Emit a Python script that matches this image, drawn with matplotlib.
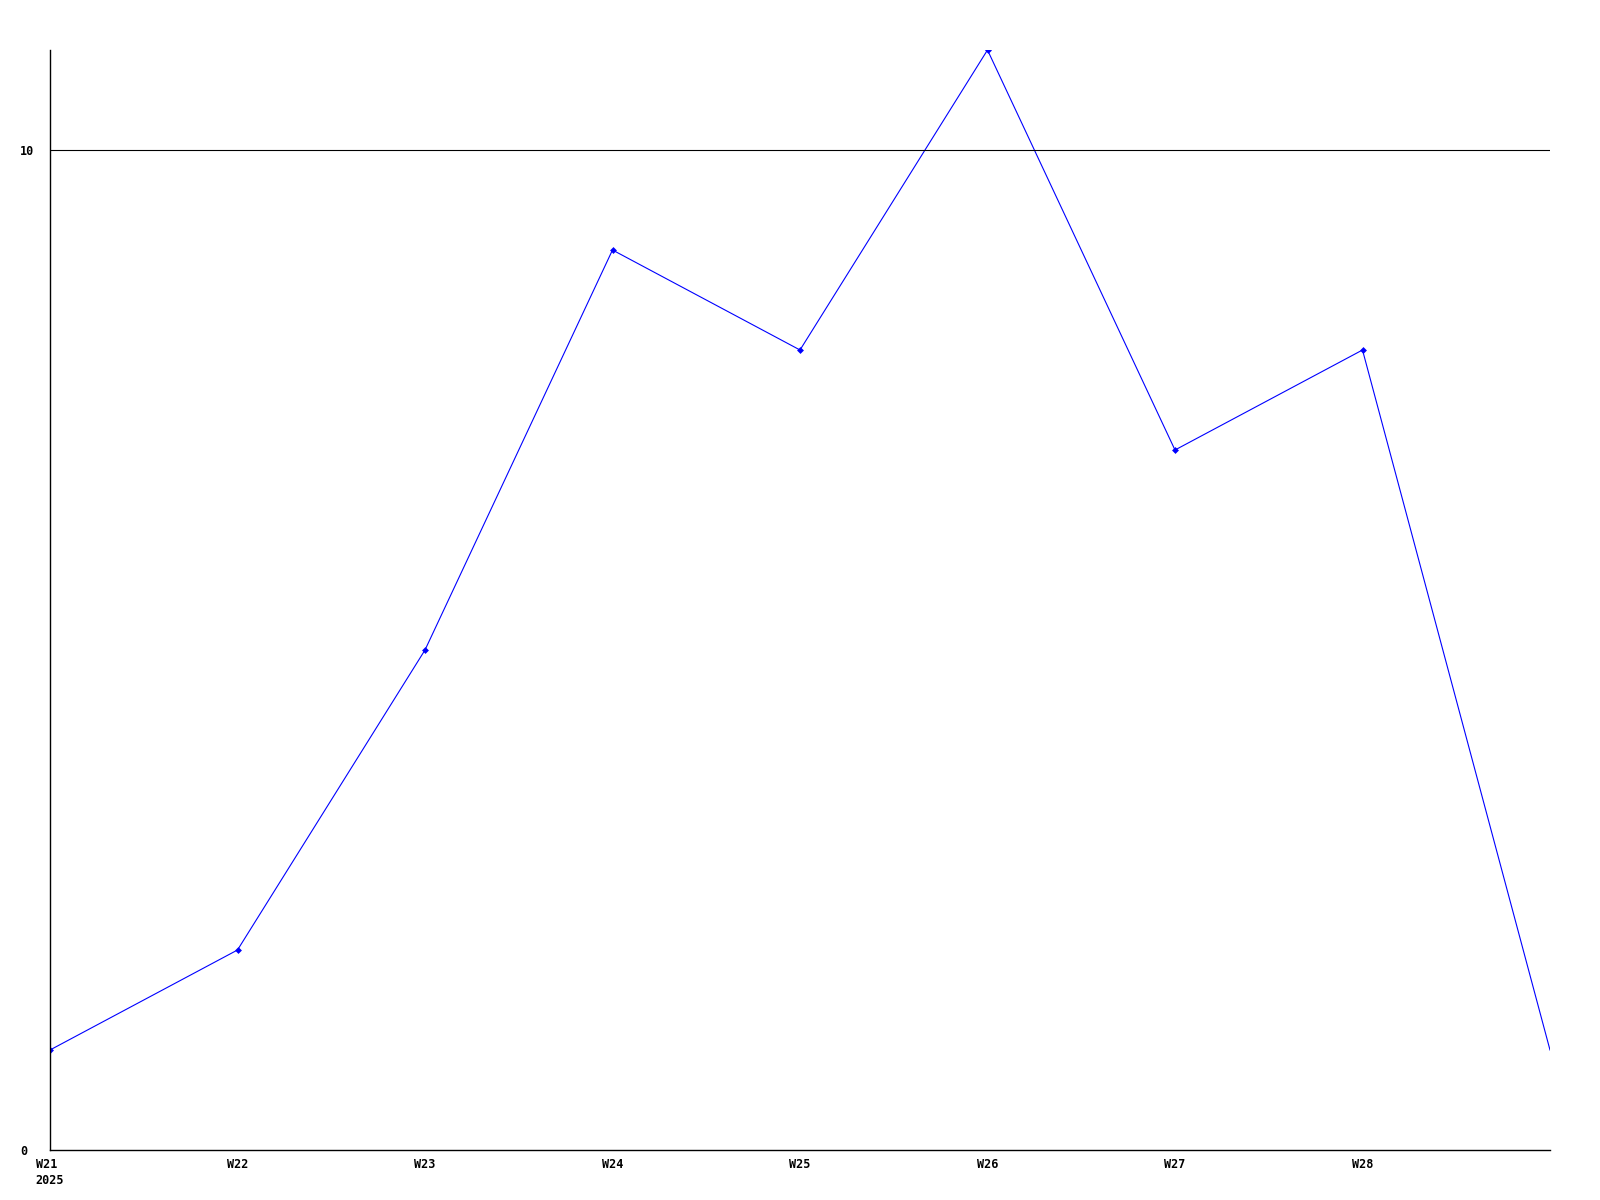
import matplotlib
matplotlib.use("Agg")
import matplotlib.pyplot as plt

weeks = ["W21", "W22", "W23", "W24", "W25", "W26", "W27", "W28", "W29"]
values = [1, 2, 5, 9, 8, 11, 7, 8, 1]
tick_labels = ["W21\n2025", "W22", "W23", "W24", "W25", "W26", "W27", "W28"]
y_ticks = [0, 10]

fig = plt.figure(figsize=(16, 12), dpi=100)
ax = fig.add_axes([50/1600, 50/1200, 1500/1600, 1100/1200])

x = list(range(len(weeks)))
ax.plot(x, values, color="#0000ff", linewidth=0.8, marker="D", markersize=3.5,
        markeredgewidth=0, markevery=list(range(len(weeks) - 1)))
ax.axhline(10, color="black", linewidth=0.8)

ax.set_xlim(0, len(weeks) - 1)
ax.set_ylim(0, 11)

for s in ["top", "right"]:
    ax.spines[s].set_visible(False)
for s in ["left", "bottom"]:
    ax.spines[s].set_linewidth(1.0)

font = dict(family="DejaVu Sans Mono", weight="bold", size=8.5)
ax.set_xticks(range(len(tick_labels)))
ax.set_xticklabels(tick_labels, **font, linespacing=1.25)
for lab in ax.get_xticklabels():
    lab.set_verticalalignment("top")
    lab.set_multialignment("left")
ax.set_yticks(y_ticks)
ax.set_yticklabels([str(v) for v in y_ticks], **font)
for lab in ax.get_yticklabels():
    lab.set_horizontalalignment("left")
ax.tick_params(axis="x", length=0, pad=6)
ax.tick_params(axis="y", length=0, pad=21.6)

fig.savefig("out.png", dpi=100)
